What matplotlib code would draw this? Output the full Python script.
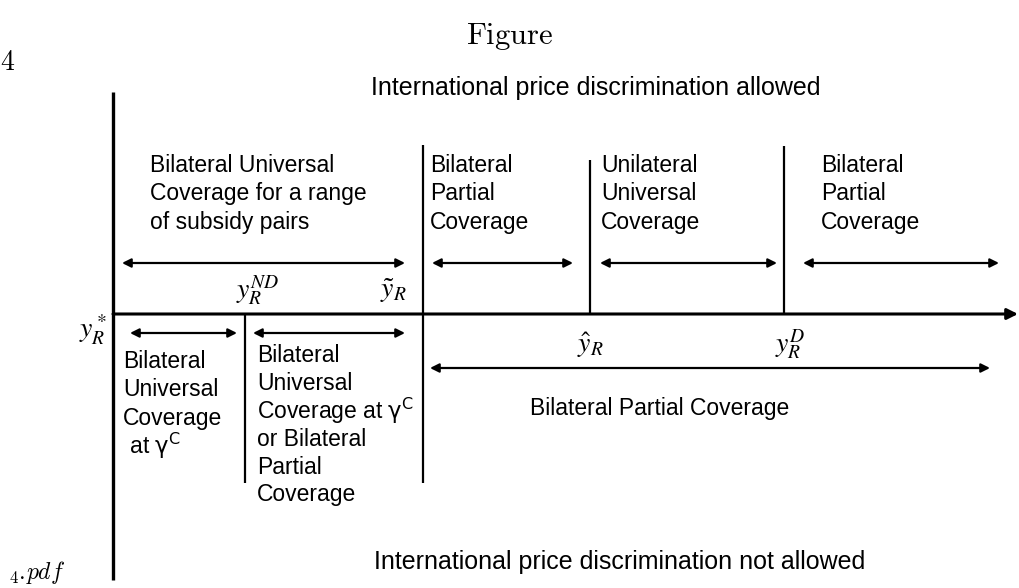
import matplotlib.pyplot as plt

# regiones y etiquetas del diagrama
titulo = "Figure"
arriba = "International price discrimination allowed"
abajo = "International price discrimination not allowed"

regiones_sup = ["Bilateral Universal\nCoverage for a range\nof subsidy pairs",
                "Bilateral\nPartial\nCoverage",
                "Unilateral\nUniversal\nCoverage",
                "Bilateral\nPartial\nCoverage"]
x_regiones_sup = [150, 430, 601, 821]

gamma_c = r"$\mathrm{\gamma}^{\mathrm{C}}$"
regiones_inf = ["Bilateral\nUniversal\nCoverage\n at " + gamma_c,
                "Bilateral\nUniversal\nCoverage at " + gamma_c + "\nor Bilateral\nPartial\nCoverage"]
x_regiones_inf = [123, 257]
y_regiones_inf = [362, 355]

umbrales = [r"$y_R^{ND}$", r"$\tilde{y}_R$", r"$y_R^*$", r"$\hat{y}_R$", r"$y_R^D$"]
x_umbrales = [258, 393, 93, 590, 790]
y_umbrales = [291, 291, 330, 345, 345]

# tramos (flechas dobles): y, x inicio, x fin
flechas = [(263, 122, 405), (263, 432, 573), (263, 600, 777), (263, 803, 999),
           (333, 130, 237), (333, 253, 405), (368, 430, 990)]

# separadores verticales: x, y inicio, y fin
separadores = [(423, 145, 483), (590, 160, 314), (784, 146, 314), (245, 314, 483)]

fig = plt.figure(figsize=(10.2, 5.88), dpi=100)
ax = fig.add_axes([0, 0, 1, 1])
ax.set_xlim(0, 1020)
ax.set_ylim(588, 0)
ax.axis('off')

fuente = 'Liberation Sans'

# ejes principales
ax.plot([113, 113], [92, 580], color='k', lw=2.4, solid_capstyle='butt')
ax.annotate('', xy=(1018, 314), xytext=(113, 314),
            arrowprops=dict(arrowstyle='-|>', lw=2.2, color='k', mutation_scale=16,
                            shrinkA=0, shrinkB=0))

for x, y0, y1 in separadores:
    ax.plot([x, x], [y0, y1], color='k', lw=1.6, solid_capstyle='butt')

for y, x0, x1 in flechas:
    ax.annotate('', xy=(x1, y), xytext=(x0, y),
                arrowprops=dict(arrowstyle='<|-|>', lw=1.6, color='k', mutation_scale=13,
                                shrinkA=0, shrinkB=0))

def escribir(texto, x, y, paso=28.5, **kw):
    for i, linea in enumerate(texto.split("\n")):
        ax.text(x, y + i * paso, linea, va='center', ha='left', fontsize=16.5,
                family=fuente, math_fontfamily='dejavusans', **kw)

for texto, x in zip(regiones_sup, x_regiones_sup):
    escribir(texto, x, 165)

for texto, x, y in zip(regiones_inf, x_regiones_inf, y_regiones_inf):
    escribir(texto, x, y, paso=28)

ax.text(660, 408, "Bilateral Partial Coverage", ha='center', va='center',
        fontsize=16.5, family=fuente)

for texto, x, y in zip(umbrales, x_umbrales, y_umbrales):
    ax.text(x, y, texto, ha='center', va='center', fontsize=20, math_fontfamily='stix')

ax.text(596, 88, arriba, ha='center', va='center', fontsize=18, family=fuente)
ax.text(620, 562, abajo, ha='center', va='center', fontsize=18, family=fuente)

ax.text(510, 36, r"$\mathrm{" + titulo + "}$", ha='center', va='center', fontsize=22,
        math_fontfamily='cm')
ax.text(0, 62, r"$\mathrm{4}$", ha='left', va='center', fontsize=20, math_fontfamily='cm')
ax.text(8, 572, r"$_{4}.\!pdf$", ha='left', va='center', fontsize=17, math_fontfamily='cm')

fig.savefig("out.png", dpi=100)
